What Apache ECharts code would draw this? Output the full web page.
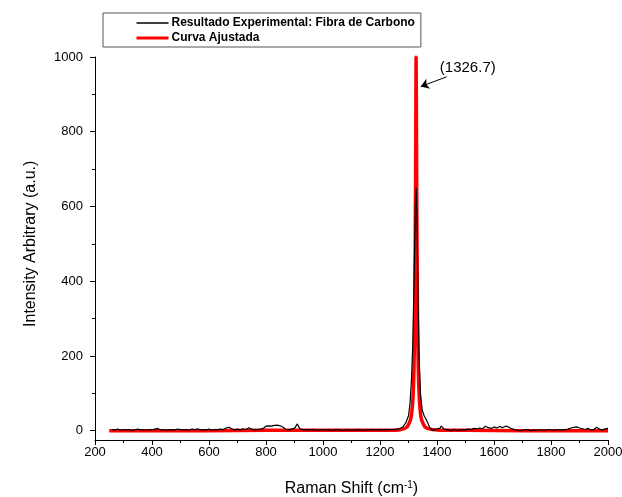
<!DOCTYPE html>
<html>
<head>
<meta charset="utf-8">
<script src="https://cdn.jsdelivr.net/npm/echarts@6/dist/echarts.min.js"></script>
<style>
  html, body { margin: 0; padding: 0; background: #fff; }
  #main { width: 622px; height: 497px; }
</style>
</head>
<body>
<div id="main"></div>
<script>
// experimental spectrum (Raman shift, intensity)
var expShift = [260, 270, 280, 290, 300, 310, 320, 330, 340, 350, 360, 370, 380, 390, 400, 410, 420, 430, 440, 450,
  460, 470, 480, 490, 500, 510, 520, 530, 540, 550, 560, 570, 580, 590, 600, 610, 620, 630, 640, 650,
  660, 670, 680, 690, 700, 710, 720, 730, 740, 750, 760, 770, 780, 790, 800, 810, 820, 830, 840, 850,
  860, 870, 880, 890, 900, 910, 915, 920, 930, 940, 950, 960, 970, 980, 990, 1000, 1010, 1020, 1030, 1040,
  1050, 1060, 1070, 1080, 1090, 1100, 1110, 1120, 1130, 1140, 1150, 1160, 1170, 1180, 1190, 1200, 1210, 1220, 1230, 1240,
  1250, 1260, 1270, 1280, 1290, 1300, 1305, 1310, 1315, 1320, 1324, 1327, 1330, 1333, 1337, 1342, 1348, 1355, 1362, 1368,
  1375, 1380, 1385, 1390, 1400, 1405, 1410, 1415, 1420, 1425, 1430, 1440, 1450, 1460, 1470, 1480, 1490, 1500, 1510, 1520,
  1530, 1540, 1550, 1560, 1570, 1580, 1590, 1600, 1610, 1620, 1630, 1640, 1650, 1660, 1670, 1680, 1690, 1700, 1710, 1720,
  1730, 1740, 1750, 1760, 1770, 1780, 1790, 1800, 1810, 1820, 1830, 1840, 1850, 1860, 1870, 1880, 1890, 1900, 1910, 1920,
  1930, 1940, 1950, 1960, 1970, 1980, 1990, 2000];
var expIntensity = [3, 2, 4, 1, 3, 2, 3, 0, 2, 4, 2, 3, 1, 3, 2, 4, 6, 2, 3, 1,
  2, 3, 2, 4, 3, 2, 3, 1, 4, 3, 5, 2, 3, 2, 4, 1, 3, 2, 4, 3,
  7, 9, 5, 2, 4, 2, 5, 3, 8, 4, 2, 3, 4, 6, 12, 13, 12, 14, 15, 13,
  9, 3, 2, 4, 6, 18, 10, 4, 3, 2, 3, 2, 3, 1, 2, 3, 2, 2, 1, 2,
  3, 2, 1, 2, 2, 1, 2, 3, 2, 1, 2, 2, 3, 2, 2, 3, 2, 3, 2, 3,
  3, 4, 6, 10, 20, 40, 70, 130, 230, 420, 600, 650, 560, 380, 200, 100, 55, 40, 30, 20,
  8, 3, 0, -3, 5, 10, 6, 12, 8, 4, 6, 2, 0, 3, 1, 2, 3, 2, 4, 3,
  6, 5, 7, 5, 12, 8, 6, 10, 7, 11, 8, 12, 10, 6, 3, 2, -1, 1, 3, 2,
  0, 2, 1, 3, 2, 1, 3, 2, 1, 3, 2, 2, 3, 4, 7, 9, 10, 7, 5, 3,
  6, 2, 3, 9, 4, 2, 5, 6];

// fitted curve (Raman shift, intensity)
var fitShift = [250, 400, 600, 800, 1000, 1150, 1250, 1280, 1295, 1305, 1310, 1315, 1318, 1320, 1322, 1324, 1325.5, 1326.7,
  1328, 1329.5, 1331.5, 1333.5, 1335.5, 1338.5, 1343, 1348, 1358, 1375, 1410, 1500, 1700, 1900, 2000];
var fitIntensity = [0, 0, 0, 1, 1, 1, 1, 4, 10, 25, 40, 80, 130, 200, 320, 550, 800, 1000,
  800, 550, 320, 200, 130, 80, 40, 25, 10, 4, 1, 1, 0, 0, 0];

var seriesNames = ['Resultado Experimental: Fibra de Carbono', 'Curva Ajustada'];
var peakLabel = '(1326.7)';
var labelAt = [1508, 970];
var arrowFrom = [1434, 947];
var arrowTo = [1343, 921];

function pairs(xs, ys) {
  return xs.map(function (x, i) { return [x, ys[i]]; });
}

var chart = echarts.init(document.getElementById('main'));
var font = "'Liberation Sans', Arial, sans-serif";
var plain = function (v) { return String(v); };

var option = {
  animation: false,
  backgroundColor: '#fff',
  textStyle: { fontFamily: font },
  legend: {
    data: [
      { name: seriesNames[0], lineStyle: { color: '#000', width: 1.5 } },
      { name: seriesNames[1], lineStyle: { color: '#ff0000', width: 3 } }
    ],
    orient: 'vertical',
    left: 103,
    top: 13,
    padding: [4, 6, 3, 32],
    itemWidth: 32,
    itemHeight: 14,
    itemGap: 3,
    itemStyle: { opacity: 0 },
    borderColor: '#555',
    borderWidth: 1,
    selectedMode: false,
    textStyle: { fontFamily: font, fontSize: 12, fontWeight: 'bold', color: '#000', padding: [0, 0, 0, -2] }
  },
  grid: [
    { left: 95, right: 14, top: 57, height: 383, containLabel: false, outerBoundsMode: 'none' },
    { left: 95, right: 14, top: 57, height: 373.66, containLabel: false, outerBoundsMode: 'none' }
  ],
  xAxis: [
    {
      gridIndex: 0,
      type: 'value',
      min: 200,
      max: 2000,
      interval: 200,
      name: 'Raman Shift (cm{sup|-1})',
      nameLocation: 'middle',
      nameGap: 40,
      nameTextStyle: {
        fontFamily: font, fontSize: 16, color: '#000',
        rich: { sup: { fontSize: 10, verticalAlign: 'top', padding: [0, 0, 8, 0], fontFamily: font, color: '#000' } }
      },
      axisLine: { onZero: false, lineStyle: { color: '#000', width: 1 } },
      axisTick: { inside: false, length: 5, lineStyle: { color: '#000' } },
      minorTick: { show: true, splitNumber: 2, length: 3, lineStyle: { color: '#000' } },
      axisLabel: { fontFamily: font, fontSize: 13, color: '#000', margin: 6, formatter: plain },
      splitLine: { show: false }
    },
    {
      gridIndex: 1,
      type: 'value',
      min: 200,
      max: 2000,
      show: false
    }
  ],
  yAxis: [
    {
      gridIndex: 0,
      type: 'value',
      min: -25,
      max: 1000,
      axisLine: { show: true, onZero: false, lineStyle: { color: '#000', width: 1 } },
      axisTick: { show: false },
      axisLabel: { show: false },
      splitLine: { show: false }
    },
    {
      gridIndex: 1,
      type: 'value',
      min: 0,
      max: 1000,
      interval: 200,
      name: 'Intensity Arbitrary (a.u.)',
      nameLocation: 'middle',
      nameGap: 56,
      nameRotate: 90,
      nameTextStyle: { fontFamily: font, fontSize: 16, color: '#000' },
      axisLine: { show: false },
      axisTick: { show: true, inside: false, length: 5, lineStyle: { color: '#000' } },
      minorTick: { show: true, splitNumber: 2, length: 3, lineStyle: { color: '#000' } },
      axisLabel: { fontFamily: font, fontSize: 13, color: '#000', margin: 12, formatter: plain },
      splitLine: { show: false }
    }
  ],
  series: [
    {
      name: seriesNames[1],
      type: 'line',
      xAxisIndex: 0,
      yAxisIndex: 0,
      symbol: 'none',
      smooth: 0.3,
      color: '#ff0000',
      lineStyle: { color: '#ff0000', width: 3.5 },
      data: pairs(fitShift, fitIntensity),
      z: 2,
      markLine: {
        silent: true,
        symbol: ['none', 'arrow'],
        symbolSize: 8,
        label: { show: false },
        lineStyle: { color: '#000', width: 1, type: 'solid' },
        data: [[{ coord: arrowFrom }, { coord: arrowTo }]]
      },
      markPoint: {
        silent: true,
        symbol: 'circle',
        symbolSize: 0,
        label: {
          show: true,
          formatter: peakLabel,
          fontFamily: font,
          fontSize: 15,
          color: '#000',
          position: 'inside'
        },
        data: [{ coord: labelAt }]
      }
    },
    {
      name: seriesNames[0],
      type: 'line',
      xAxisIndex: 0,
      yAxisIndex: 0,
      symbol: 'none',
      color: '#000',
      lineStyle: { color: '#000', width: 1.2 },
      data: pairs(expShift, expIntensity),
      z: 3
    }
  ]
};

chart.setOption(option);
</script>
</body>
</html>
